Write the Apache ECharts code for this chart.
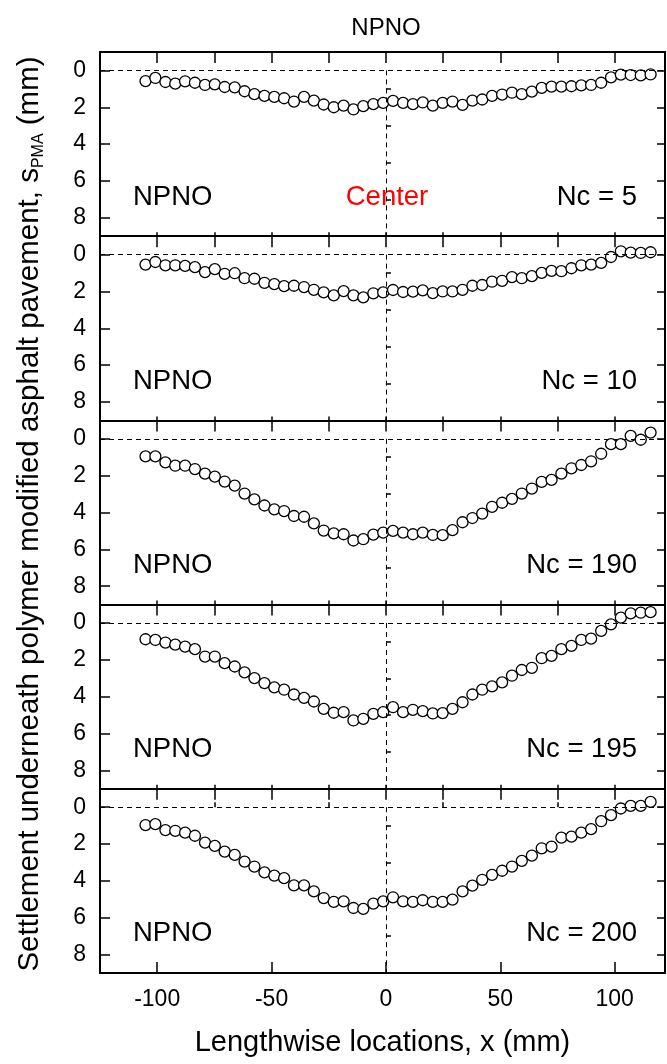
<!DOCTYPE html>
<html>
<head>
<meta charset="utf-8">
<script src="https://cdn.jsdelivr.net/npm/echarts@6/dist/echarts.min.js"></script>
<style>
html,body{margin:0;padding:0;background:#fff;}
#chart{width:667px;height:1064px;}
</style>
</head>
<body>
<div id="chart"></div>
<script>
// ---- data ----
const xs = [-105.1,-100.8,-96.4,-92.1,-87.8,-83.5,-79.1,-74.8,-70.5,-66.1,-61.8,-57.5,-53.1,-48.8,-44.5,-40.2,-35.8,-31.5,-27.2,-22.8,-18.5,-14.2,-9.9,-5.5,-1.2,3.1,7.5,11.8,16.1,20.5,24.8,29.1,33.5,37.8,42.1,46.4,50.8,55.1,59.4,63.8,68.1,72.4,76.7,81.1,85.4,89.7,94.1,98.4,102.7,107.0,111.4,115.7];
const s5 = [0.58,0.41,0.63,0.72,0.59,0.67,0.79,0.76,0.90,0.92,1.13,1.29,1.38,1.44,1.51,1.69,1.44,1.64,1.85,2.00,1.91,2.12,1.94,1.83,1.76,1.65,1.76,1.83,1.74,1.91,1.76,1.69,1.87,1.64,1.58,1.38,1.31,1.21,1.29,1.15,0.95,0.88,0.88,0.86,0.81,0.79,0.67,0.38,0.23,0.25,0.27,0.22];
const s10 = [0.54,0.40,0.58,0.58,0.61,0.68,0.95,0.79,1.04,1.01,1.28,1.31,1.53,1.60,1.71,1.69,1.76,1.91,2.05,2.21,1.98,2.21,2.32,2.10,2.05,1.92,2.03,2.01,1.94,2.09,2.00,2.00,1.91,1.69,1.65,1.47,1.42,1.22,1.28,1.17,0.99,0.88,0.90,0.74,0.58,0.54,0.45,0.13,-0.18,-0.11,-0.09,-0.13];
const s190 = [0.95,0.95,1.28,1.46,1.46,1.64,1.89,2.05,2.32,2.54,2.97,3.29,3.62,3.83,3.92,4.19,4.23,4.59,4.98,5.13,5.18,5.52,5.45,5.20,5.09,5.00,5.09,5.18,5.09,5.22,5.23,4.96,4.53,4.30,4.06,3.69,3.47,3.26,2.97,2.70,2.34,2.23,1.89,1.60,1.42,1.22,0.81,0.29,0.29,-0.16,0.05,-0.34];
const s195 = [0.88,0.92,1.06,1.17,1.28,1.42,1.82,1.82,2.18,2.36,2.68,2.99,3.26,3.49,3.62,3.88,4.06,4.26,4.66,4.87,4.84,5.29,5.20,4.93,4.84,4.57,4.84,4.71,4.78,4.91,4.89,4.66,4.30,3.88,3.62,3.44,3.22,2.86,2.55,2.43,1.91,1.78,1.42,1.24,0.92,0.85,0.43,0.07,-0.29,-0.52,-0.56,-0.59];
const s200 = [0.97,0.92,1.24,1.28,1.38,1.55,1.92,2.10,2.41,2.59,2.95,3.22,3.54,3.71,3.85,4.24,4.24,4.57,4.93,5.14,5.11,5.47,5.52,5.23,5.11,4.89,5.11,5.14,5.05,5.14,5.14,5.02,4.57,4.26,3.94,3.67,3.45,3.22,2.91,2.63,2.23,2.14,1.65,1.60,1.38,1.19,0.76,0.43,0.07,-0.07,-0.07,-0.29];
const panelSeries = [s5, s10, s190, s195, s200];
const panelNc = ['Nc = 5', 'Nc = 10', 'Nc = 190', 'Nc = 195', 'Nc = 200'];
const panelLabel = 'NPNO';
const titleText = 'NPNO';
const centerText = 'Center';
const xTickLabels = [-100, -50, 0, 50, 100];
const xMinorTicks = [-75, -25, 25, 75];
const xAllTicks = [-100, -75, -50, -25, 0, 25, 50, 75, 100];
const yTickLabels = [0, 2, 4, 6, 8];
const yMinorTicks = [1, 3, 5, 7];
const xName = 'Lengthwise locations, x (mm)';

// ---- layout ----
const FONT = '"Liberation Sans", Arial, sans-serif';
const GL = 100, GR = 2, GT = 52, GH = 184.2;
const XMIN = -125, XMAX = 122, YMIN = -1, YMAX = 9;

const grid = [], xAxis = [], yAxis = [], series = [], graphic = [];
const lineStyle = {color: '#000', width: 2};
const tickStyle = {color: '#000', width: 1.5};

for (let i = 0; i < 5; i++) {
  const top = GT + i * GH;
  grid.push({left: GL, right: GR, top: top, height: GH});
  const last = i === 4;
  const xMainIdx = xAxis.length;
  xAxis.push({
    gridIndex: i, type: 'value', min: XMIN, max: XMAX, position: 'bottom',
    axisLine: {show: true, onZero: false, lineStyle},
    axisTick: {show: true, inside: true, length: last ? 11 : 4, customValues: last ? xTickLabels : xAllTicks, lineStyle: tickStyle},
    axisLabel: {show: last, customValues: xTickLabels, fontSize: 23, color: '#000', fontFamily: FONT, margin: 15},
    splitLine: {show: false},
    name: last ? xName : '', nameLocation: 'middle', nameGap: 55,
    nameTextStyle: {fontSize: 29, color: '#000', fontFamily: FONT}
  });
  if (last) {
    xAxis.push({
      gridIndex: i, type: 'value', min: XMIN, max: XMAX, position: 'bottom',
      axisLine: {show: false}, axisLabel: {show: false}, splitLine: {show: false},
      axisTick: {show: true, inside: true, length: 5, customValues: xMinorTicks, lineStyle: tickStyle}
    });
  }
  xAxis.push({
    gridIndex: i, type: 'value', min: XMIN, max: XMAX, position: 'top',
    axisLine: {show: true, onZero: false, lineStyle},
    axisTick: {show: true, inside: true, length: 11, customValues: xAllTicks, lineStyle: tickStyle},
    axisLabel: {show: false}, splitLine: {show: false}
  });
  const yMainIdx = yAxis.length;
  yAxis.push({
    gridIndex: i, type: 'value', min: YMIN, max: YMAX, inverse: true, position: 'left',
    axisLine: {show: true, onZero: false, lineStyle},
    axisTick: {show: true, inside: true, length: 10, customValues: yTickLabels, lineStyle: tickStyle},
    axisLabel: {show: true, customValues: yTickLabels, fontSize: 23, color: '#000', fontFamily: FONT, margin: 14},
    splitLine: {show: false}
  });
  yAxis.push({
    gridIndex: i, type: 'value', min: YMIN, max: YMAX, inverse: true, position: 'left',
    axisLine: {show: false}, axisLabel: {show: false}, splitLine: {show: false},
    axisTick: {show: true, inside: true, length: 5, customValues: yMinorTicks, lineStyle: tickStyle}
  });
  yAxis.push({
    gridIndex: i, type: 'value', min: YMIN, max: YMAX, inverse: true, position: 'right',
    axisLine: {show: true, onZero: false, lineStyle},
    axisTick: {show: true, inside: true, length: 8, customValues: yTickLabels, lineStyle: tickStyle},
    axisLabel: {show: false}, splitLine: {show: false}
  });

  // dashed reference lines
  series.push({
    type: 'line', xAxisIndex: xMainIdx, yAxisIndex: yMainIdx, data: [], z: 1,
    markLine: {
      silent: true, symbol: 'none', animation: false,
      label: {show: false},
      lineStyle: {color: '#000', width: 1, type: [5, 4]},
      data: [
        [{coord: [XMIN, 0]}, {coord: [XMAX, 0]}],
        [{coord: [0, 0]}, {coord: [0, YMAX]}]
      ]
    }
  });
  series.push({
    type: 'scatter', xAxisIndex: xMainIdx, yAxisIndex: yMainIdx, z: 3,
    symbol: 'circle', symbolSize: 11, animation: false,
    itemStyle: {color: '#fff', borderColor: '#000', borderWidth: 1.3, opacity: 1},
    data: xs.map((x, j) => [x, panelSeries[i][j]])
  });

  const ly = top + 145;
  graphic.push({type: 'text', x: 133, y: ly, style: {text: panelLabel, fontSize: 27.5, fill: '#000', fontFamily: FONT, align: 'left', verticalAlign: 'middle'}});
  graphic.push({type: 'text', x: 637, y: ly, style: {text: panelNc[i], fontSize: 27.5, fill: '#000', fontFamily: FONT, align: 'right', verticalAlign: 'middle'}});
  if (i === 0) {
    graphic.push({type: 'text', x: 387, y: ly, style: {text: centerText, fontSize: 27.5, fill: '#ff0000', fontFamily: FONT, align: 'center', verticalAlign: 'middle'}});
  }
}

graphic.push({type: 'text', x: 386, y: 28, style: {text: titleText, fontSize: 24, fill: '#000', fontFamily: FONT, align: 'center', verticalAlign: 'middle'}});
graphic.push({
  type: 'text', x: 30, y: 514, rotation: Math.PI / 2,
  style: {
    text: '{n|Settlement underneath polymer modified asphalt pavement, s}{sub|PMA}{n| (mm)}',
    align: 'center', verticalAlign: 'middle',
    rich: {
      n: {fontSize: 29.5, lineHeight: 33, fill: '#000', fontFamily: FONT},
      sub: {fontSize: 16, lineHeight: 16, verticalAlign: 'bottom', fill: '#000', fontFamily: FONT}
    }
  }
});

const chart = echarts.init(document.getElementById('chart'), null, {renderer: 'canvas'});
chart.setOption({
  animation: false,
  backgroundColor: '#fff',
  grid, xAxis, yAxis, series, graphic
});
</script>
</body>
</html>
